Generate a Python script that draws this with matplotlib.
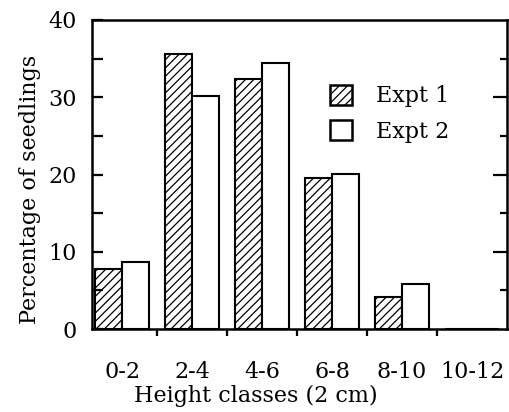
import matplotlib
matplotlib.use("Agg")
import matplotlib.pyplot as plt
import numpy as np

# Seedling height distribution, two experiments
height_classes = ["0-2", "2-4", "4-6", "6-8", "8-10", "10-12"]
expt1 = [7.8, 35.6, 32.4, 19.5, 4.1, 0.0]
expt2 = [8.7, 30.1, 34.4, 20.1, 5.8, 0.0]
series_labels = ["Expt 1", "Expt 2"]

plt.rcParams["font.family"] = ["DejaVu Serif"]
plt.rcParams["hatch.linewidth"] = 0.9
FS = 16

fig = plt.figure(figsize=(5.10, 4.12), dpi=100)
ax = fig.add_axes([92 / 510, 1 - 329 / 412, 415 / 510, 309 / 412])

x = np.arange(len(height_classes))
w = 0.385
ax.bar(x - w / 2, expt1, width=w, facecolor="white", edgecolor="black",
       linewidth=1.5, hatch="////", label=series_labels[0])
ax.bar(x + w / 2, expt2, width=w, facecolor="white", edgecolor="black",
       linewidth=1.5, label=series_labels[1])

ax.set_xlim(-0.43, 5.5)
ax.set_ylim(0, 40)

for sp in ax.spines.values():
    sp.set_linewidth(1.8)
ax.spines["right"].set_visible(False)

# y axis: labelled ticks every 10, unlabelled every 5, pointing inward
ax.set_yticks([0, 10, 20, 30, 40])
ax.set_yticks([5, 15, 25, 35], minor=True)
ax.tick_params(axis="y", which="both", direction="in", length=8, width=1.6,
               labelsize=FS, pad=11)

# x axis: labels at class centres, tick marks at class boundaries
ax.set_xticks(x)
ax.set_xticklabels(height_classes)
ax.set_xticks(np.arange(0.5, 5.0, 1.0), minor=True)
ax.tick_params(axis="x", which="major", length=0, labelsize=FS, pad=23)
ax.tick_params(axis="x", which="minor", direction="out", length=5, width=1.6)

# right-hand axis with long/short inward ticks
sec = ax.secondary_yaxis("right")
sec.spines["right"].set_linewidth(1.8)
sec.set_yticks([10, 20, 30])
sec.set_yticks([5, 15, 25, 35], minor=True)
sec.tick_params(which="major", direction="in", length=10, width=1.6, labelright=False)
sec.tick_params(which="minor", direction="in", length=5, width=1.6)

fig.text(30 / 510, 1 - 189 / 412, "Percentage of seedlings", rotation=90,
         ha="center", va="center", fontsize=FS)
fig.text(256 / 510, 1 - 396 / 412, "Height classes (2 cm)",
         ha="center", va="center", fontsize=FS)

leg = ax.legend(loc="upper left", bbox_to_anchor=(0.573, 0.79), frameon=False,
                fontsize=FS, handlelength=1.0, handleheight=1.0,
                handletextpad=1.1, labelspacing=0.58, borderpad=0,
                borderaxespad=0)
for h in leg.legend_handles:
    h.set_linewidth(1.8)

fig.savefig("out.png", dpi=100)
